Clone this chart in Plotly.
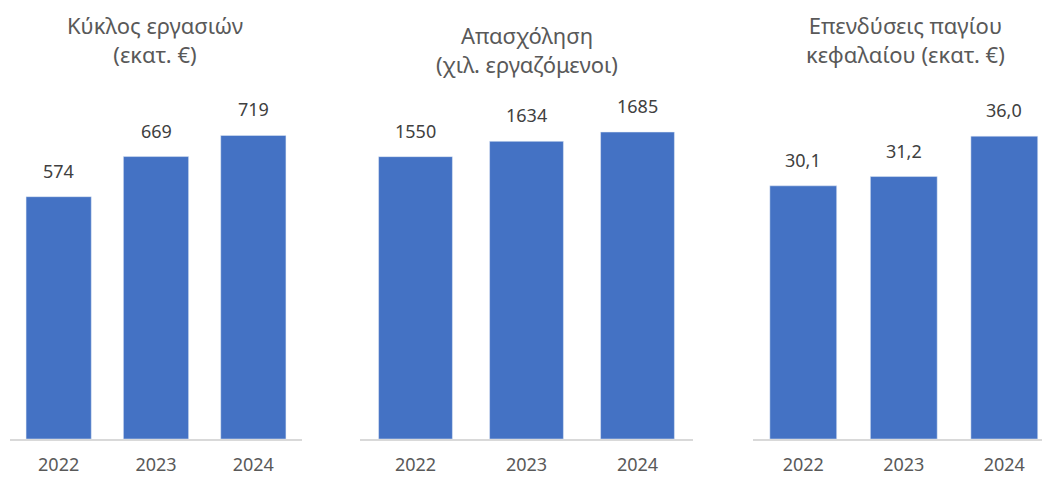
import plotly.graph_objects as go

years = ['2022', '2023', '2024']
turnover = [574, 669, 719]
employment = [1550, 1634, 1685]
investment = [30.1, 31.2, 36.0]
turnover_labels = ['574', '669', '719']
employment_labels = ['1550', '1634', '1685']
investment_labels = ['30,1', '31,2', '36,0']
titles = ['Κύκλος εργασιών<br>(εκατ. €)',
          'Απασχόληση<br>(χιλ. εργαζόμενοι)',
          'Επενδύσεις παγίου<br>κεφαλαίου (εκατ. €)']

W, H = 1042, 477
BAR = '#4472C4'
FONT = 'Noto Sans'

panels = [
    dict(y=turnover, labels=turnover_labels, title=titles[0],
         dom=(10, 302), xr=[-0.5, 2.5], ymax=803, width=0.67, ty=22, cx=155),
    dict(y=employment, labels=employment_labels, title=titles[1],
         dom=(360, 693), xr=[-0.5, 2.5], ymax=1861, width=0.665, ty=32, cx=527),
    dict(y=investment, labels=investment_labels, title=titles[2],
         dom=(753, 1042), xr=[-0.5, 2.375], ymax=40.3, width=0.665, ty=22, cx=905),
]

fig = go.Figure()
annotations = []
for i, p in enumerate(panels, start=1):
    xa = 'x' if i == 1 else f'x{i}'
    ya = 'y' if i == 1 else f'y{i}'
    fig.add_trace(go.Bar(x=years, y=p['y'], marker_color=BAR, width=p['width'],
                         xaxis=xa, yaxis=ya, hoverinfo='x+y', showlegend=False))
    # category axis: annotation x is the category index
    for j, (v, lab) in enumerate(zip(p['y'], p['labels'])):
        annotations.append(dict(x=j, y=v, xref=xa, yref=ya, text=lab,
                                showarrow=False, yanchor='bottom', yshift=12,
                                font=dict(family=FONT, size=18, color='#404040')))
    annotations.append(dict(x=p['cx'] / W, y=1 - (p['ty'] - 14) / H,
                            xref='paper', yref='paper',
                            text=p['title'], showarrow=False, yanchor='top',
                            xanchor='center', align='center',
                            font=dict(family=FONT, size=22, color='#595959')))
    fig.update_layout({
        ('xaxis' if i == 1 else f'xaxis{i}'): dict(
            domain=[p['dom'][0] / W, p['dom'][1] / W], range=p['xr'],
            type='category', showline=True, linecolor='#d9d9d9', linewidth=1.5,
            ticks='', showgrid=False, zeroline=False, fixedrange=True,
            tickfont=dict(family=FONT, size=18, color='#595959'), ticklabelstandoff=9),
        ('yaxis' if i == 1 else f'yaxis{i}'): dict(
            domain=[(H - 439) / H, (H - 100) / H], range=[0, p['ymax']],
            showticklabels=False, showline=False, ticks='',
            showgrid=False, zeroline=False, fixedrange=True),
    })

fig.update_layout(width=W, height=H, margin=dict(l=0, r=0, t=0, b=0),
                  paper_bgcolor='white', plot_bgcolor='white',
                  annotations=annotations)

fig.write_html('out.html', config={'displayModeBar': False},
               post_script="document.body.style.margin='0';")
